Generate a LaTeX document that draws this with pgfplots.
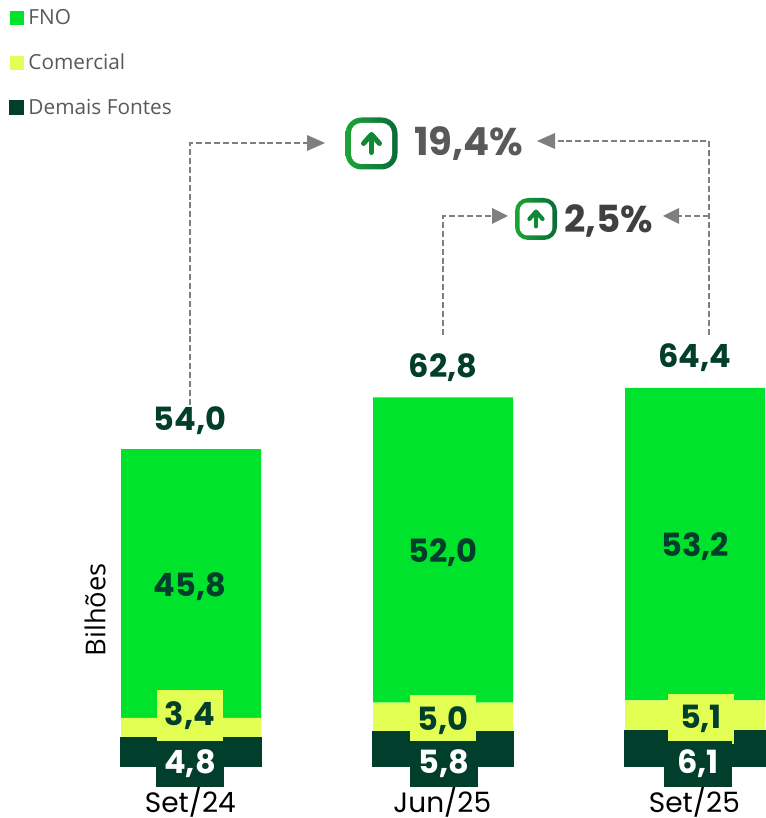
\documentclass[border=0pt]{standalone}
\usepackage{fontspec}
\setmainfont{Poppins}
\newfontfamily\osans{Open Sans}
\usepackage{pgfplots}
\pgfplotsset{compat=1.18}
\usetikzlibrary{arrows.meta}
\definecolor{fno}{HTML}{00E32D}
\definecolor{com}{HTML}{E4FF53}
\definecolor{dem}{HTML}{023E2C}
\definecolor{txtgray}{HTML}{595959}
\definecolor{icoa}{HTML}{1BA535}
\definecolor{icob}{HTML}{0A6B3A}
\definecolor{icoc}{HTML}{0E8A36}
\definecolor{arrgray}{HTML}{7F7F7F}
% one axis unit in x is one reference pixel, y is in billions
\pgfplotsset{frame/.style={
  scale only axis, width=573.75pt, height=613.5pt,
  xmin=0, xmax=765, ymin=-8.859, ymax=130.494,
  clip=false,
}}
\pgfplotsset{lab/.style={
  only marks, mark=none, point meta=explicit symbolic,
  nodes near coords,
  nodes near coords style={anchor=center, inner sep=0pt, font=\fontsize{24}{24}\selectfont\bfseries, text=dem, #1},
}}
\newcommand{\icon}[4]{% cx, cy, half size, scale
  \shade[left color=icoa, right color=icob, rounded corners=#4*12pt]
    (#1-#3,#2-#3) rectangle (#1+#3,#2+#3);
  \fill[white, rounded corners=#4*7.5pt]
    (#1-#3+#4*5.5,#2-#3+#4*5.5) rectangle (#1+#3-#4*5.5,#2+#3-#4*5.5);
  \draw[icoc, line width=#4*3.8pt, line cap=round, line join=round]
    (#1,#2+#4*9) -- (#1,#2-#4*8);
  \draw[icoc, line width=#4*3.8pt, line cap=round, line join=round]
    (#1-#4*8,#2) -- (#1,#2-#4*9) -- (#1+#4*8,#2);
}
\begin{document}
\begin{tikzpicture}
\begin{axis}[
  frame,
  ybar stacked,
  bar width=105pt,
  axis line style={draw=none},
  tick style={draw=none},
  ytick=\empty,
  xtick={191,443,695},
  xticklabels={Set/24,Jun/25,Set/25},
  xticklabel style={inner sep=0pt, yshift=24pt, xshift=-0.5pt, font=\fontsize{21}{21}\selectfont, text=black},
  ylabel={Bilh\~oes},
  every axis y label/.style={at={(axis cs:95,26.6)}, rotate=90, anchor=center,
    font=\osans\fontsize{20.5}{20.5}\selectfont, text=black},
  legend style={draw=none, fill=none, at={(axis cs:9,130.494)}, anchor=north west,
    row sep=20.4pt, inner sep=0pt, outer sep=0pt, yshift=-7.2pt,
    font=\osans\fontsize{15.6}{15.6}\selectfont, text=txtgray,
    nodes={inner sep=0pt, anchor=west}},
  reverse legend,
  legend cell align=left,
  legend image code/.code={
    \fill[#1] (0pt,-5.2pt) rectangle (10.5pt,5.3pt);
    \path (13.8pt,0pt);
  },
]
\addplot[fill=dem, draw=dem, line width=0.8pt] coordinates {(191,4.8) (443,5.8) (695,6.1)};
\addplot[fill=com, draw=none] coordinates {(191,3.4) (443,5.0) (695,5.1)};
\addplot[fill=fno, draw=none] coordinates {(191,45.8) (443,52.0) (695,53.2)};
\legend{Demais Fontes,Comercial,FNO}
\end{axis}
\begin{axis}[frame, hide axis]
% totals
\addplot[lab] coordinates {(190,58.9) [54,0] (443,67.9) [62,8] (695,69.6) [64,4]};
% FNO
\addplot[lab] coordinates {(190,30.5) [45,8] (443,36.3) [52,0] (695,37.3) [53,2]};
% Comercial
\addplot[lab={fill=com, minimum width=49.5pt, minimum height=38pt}] coordinates {(190,8.6) [3,4] (443,7.7) [5,0] (701,8.0) [5,1]};
% Demais Fontes
\addplot[lab={fill=dem, text=white, minimum width=51pt, minimum height=34.5pt}] coordinates {(190,0.34) [4,8] (444,0.34) [5,8] (698,0.34) [6,1]};
\end{axis}
\begin{scope}[x=0.75pt, y=-0.75pt, yshift=613.5pt]
  \draw[arrgray, line width=1.1pt, dash pattern=on 4.5pt off 2.2pt] (190,405) -- (190,143) -- (308,143);
  \fill[arrgray] (325,143) -- (307,135) -- (307,151) -- cycle;
  \draw[arrgray, line width=1.1pt, dash pattern=on 4.5pt off 2.2pt] (709,335) -- (709,141) -- (552,141);
  \fill[arrgray] (537,141) -- (555,133) -- (555,149) -- cycle;
  \draw[arrgray, line width=1.1pt, dash pattern=on 4.5pt off 2.2pt] (443,335) -- (443,216) -- (493,216);
  \fill[arrgray] (508,216) -- (492,208) -- (492,224) -- cycle;
  \draw[arrgray, line width=1.1pt, dash pattern=on 4.5pt off 2.2pt] (709,216) -- (678,216);
  \fill[arrgray] (663,216) -- (679,208) -- (679,224) -- cycle;
  \icon{371.5}{143.5}{26}{1}
  \icon{536}{219}{21}{0.82}
  \node[text=txtgray, font=\fontsize{29}{29}\selectfont\bfseries, anchor=center] at (469,144) {19,4\%};
  \node[text=black!75, font=\fontsize{28}{28}\selectfont\bfseries, anchor=center] at (608.5,221) {2,5\%};
\end{scope}
\pgfresetboundingbox
\path[use as bounding box] (0,0) rectangle (573.75pt,613.5pt);
\end{tikzpicture}
\end{document}
